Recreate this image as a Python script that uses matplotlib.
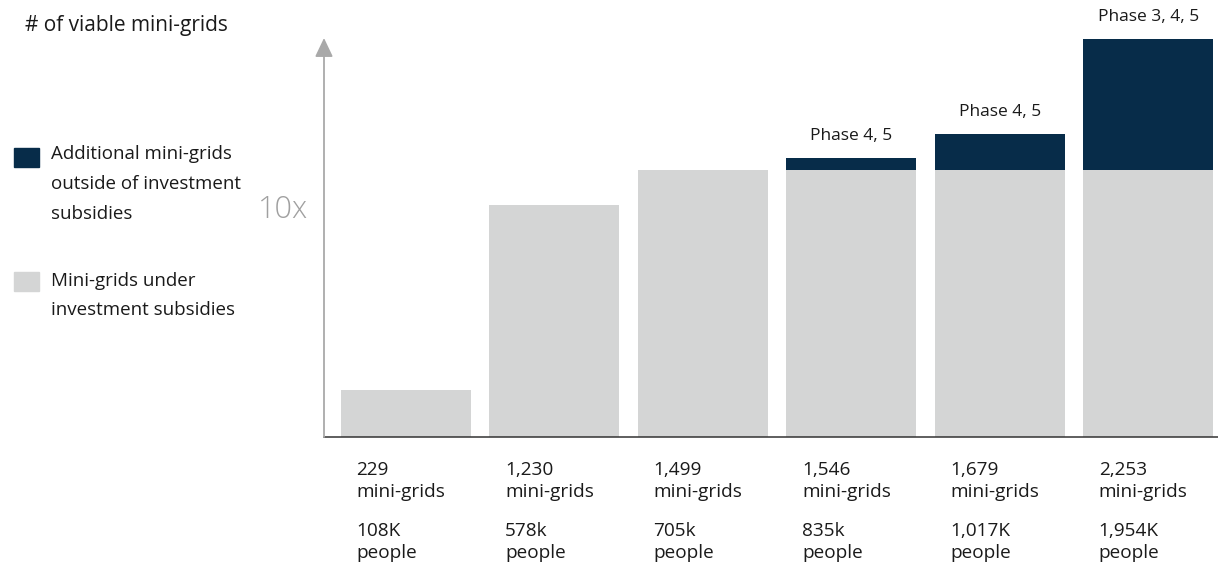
import matplotlib
matplotlib.use("Agg")
import matplotlib.pyplot as plt
from matplotlib.transforms import blended_transform_factory
from matplotlib.patches import Rectangle

plt.rcParams['font.family'] = ['Open Sans', 'DejaVu Sans']

# ---- data (bar heights, in mini-grids) ----
categories = ["229\nmini-grids", "1,230\nmini-grids", "1,499\nmini-grids",
              "1,546\nmini-grids", "1,679\nmini-grids", "2,253\nmini-grids"]
people_labels = ["108K\npeople", "578k\npeople", "705k\npeople",
                 "835k\npeople", "1,017K\npeople", "1,954K\npeople"]
under_subsidies = [266, 1313, 1511, 1511, 1511, 1511]
additional = [0, 0, 0, 68, 204, 742]
phase_labels = ["", "", "", "Phase 4, 5", "Phase 4, 5", "Phase 3, 4, 5"]
legend_labels = ["Additional mini-grids\noutside of investment\nsubsidies",
                 "Mini-grids under\ninvestment subsidies"]

NAVY = "#072c49"
GRAY = "#d4d5d5"
TXT = "#1a1a1a"

W, H = 1218, 569
fig = plt.figure(figsize=(W / 100, H / 100), dpi=100)

def fx(x):
    return x / W

def fy(y):
    return 1 - y / H

ax_left, ax_right, ax_bottom, ax_top = 324, 1218, 437, 38
ax = fig.add_axes([fx(ax_left), fy(ax_bottom), (ax_right - ax_left) / W,
                   (ax_bottom - ax_top) / H])

x = list(range(len(categories)))
bw = 0.876
ax.bar(x, under_subsidies, width=bw, color=GRAY, zorder=2)
ax.bar(x, additional, width=bw, bottom=under_subsidies, color=NAVY, zorder=2)

ax.set_xlim(-0.552, 5.47)
ymax = 2253 * 399 / 398
ax.set_ylim(0, ymax)

for s in ["top", "right", "left"]:
    ax.spines[s].set_visible(False)
ax.spines["bottom"].set_color("#333333")
ax.spines["bottom"].set_linewidth(1.1)
ax.set_xticks([])
ax.set_yticks([])

# y axis arrow
ax.annotate("", xy=(0, 1.0), xytext=(0, 0), xycoords="axes fraction",
            textcoords="axes fraction",
            arrowprops=dict(arrowstyle="-|>,head_length=0.82,head_width=0.39",
                            mutation_scale=14, color="#a9a9a9", lw=1.3,
                            shrinkA=0, shrinkB=0),
            annotation_clip=False)

# phase labels
for i, lab in enumerate(phase_labels):
    if lab:
        total = under_subsidies[i] + additional[i]
        ax.annotate(lab, xy=(i, total), xytext=(0, 16), textcoords="offset points",
                    ha="center", va="center", fontsize=12.5, color=TXT)

# bottom labels
tr = blended_transform_factory(ax.transData, fig.transFigure)
for i in x:
    xl = i - bw / 2 + 0.105
    ax.text(xl, fy(481), categories[i], transform=tr, ha="left", va="center",
            fontsize=13.7, color=TXT, linespacing=1.32, clip_on=False)
    ax.text(xl, fy(542), people_labels[i], transform=tr, ha="left", va="center",
            fontsize=13.7, color=TXT, linespacing=1.32, clip_on=False)

# title
fig.text(fx(25), fy(26), "# of viable mini-grids", ha="left", va="center",
         fontsize=15, color=TXT)

# 10x
fig.text(fx(283), fy(210), "10x", ha="center", va="center", fontsize=22,
         color="#a0a0a0", fontweight="light")

# legend
fig.patches.append(Rectangle((fx(14), fy(167)), 25 / W, 19 / H,
                             transform=fig.transFigure, color=NAVY))
fig.patches.append(Rectangle((fx(14), fy(291)), 25 / W, 19 / H,
                             transform=fig.transFigure, color=GRAY))
fig.text(fx(51), fy(184), legend_labels[0], ha="left", va="center",
         fontsize=13.5, color=TXT, linespacing=1.83)
fig.text(fx(51), fy(295.5), legend_labels[1], ha="left", va="center",
         fontsize=13.5, color=TXT, linespacing=1.83)

fig.savefig("out.png", dpi=100)
